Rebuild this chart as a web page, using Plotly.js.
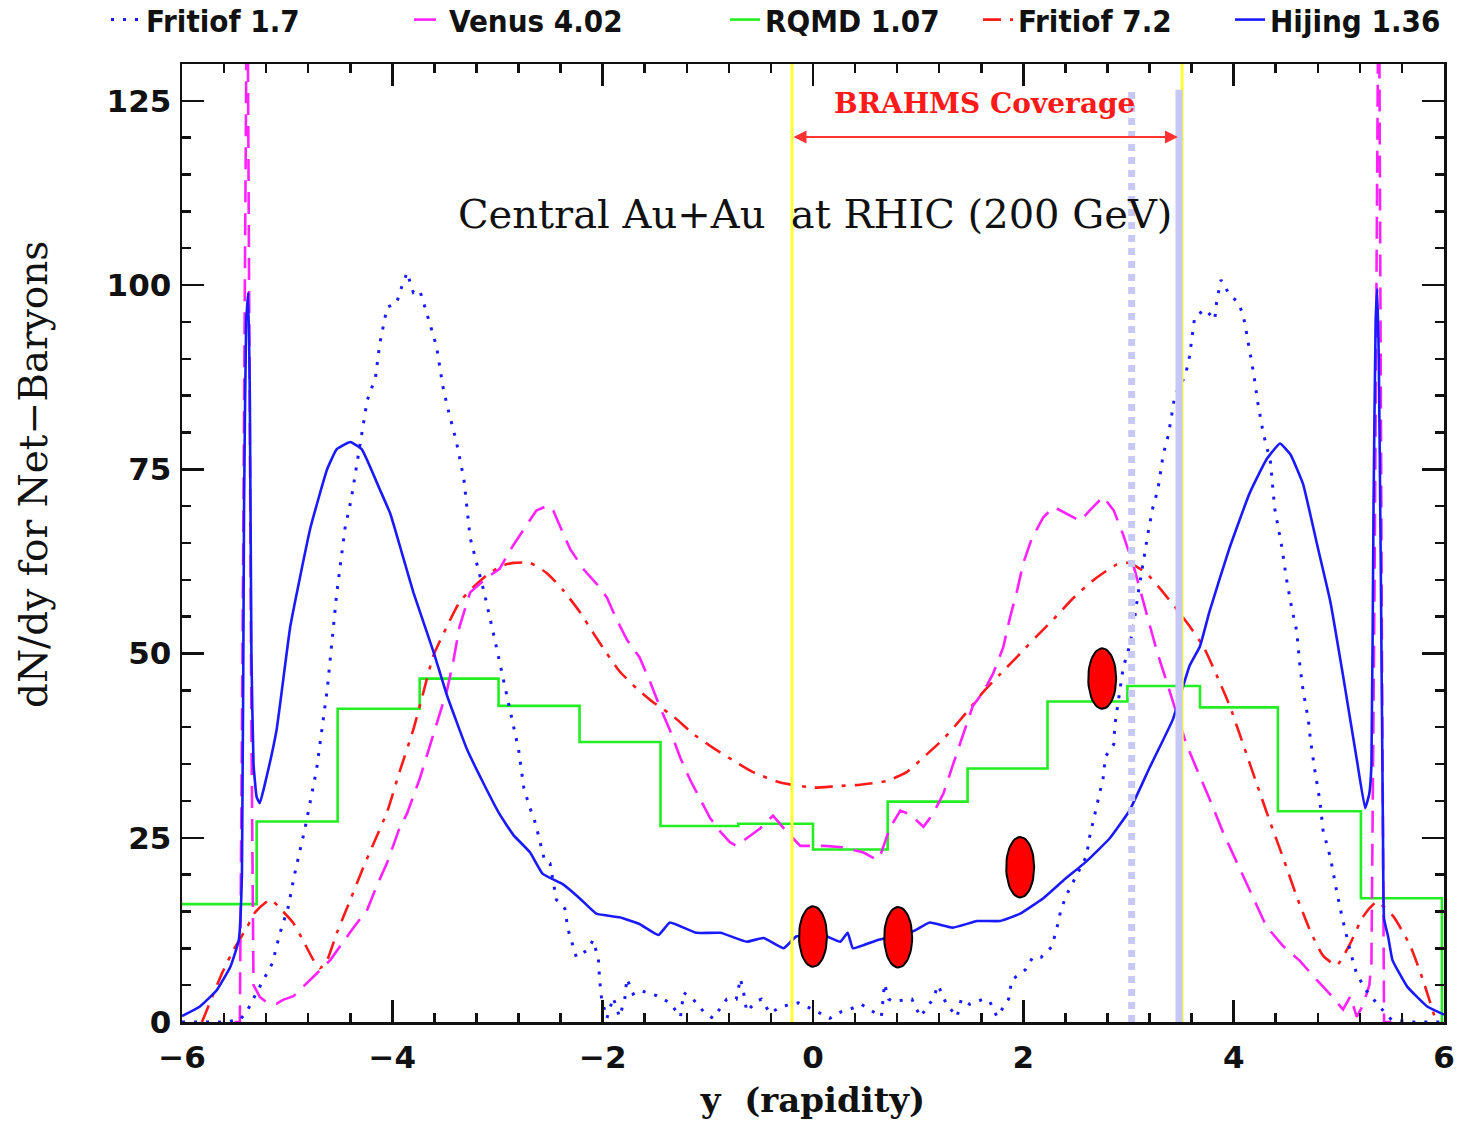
<!DOCTYPE html>
<html>
<head>
<meta charset="utf-8">
<script src="https://cdn.plot.ly/plotly-3.0.1.min.js"></script>
<style>html,body{margin:0;padding:0;background:#fff;}#chart{width:1460px;height:1121px;}</style>
</head>
<body>
<div id="chart"></div>
<script>
// ---------- data ----------
// Hijing 1.36 (blue solid)
const hijingX = [-6.0,-5.83,-5.67,-5.54,-5.46,-5.43,-5.41,-5.39,-5.37,-5.355,-5.34,-5.32,-5.29,-5.26,-5.20,-5.10,-4.97,-4.78,-4.62,-4.53,-4.40,-4.29,-4.12,-4.02,-3.91,-3.80,-3.61,-3.48,-3.29,-3.13,-2.98,-2.85,-2.69,-2.57,-2.38,-2.22,-2.06,-1.84,-1.65,-1.47,-1.36,-1.11,-0.88,-0.63,-0.47,-0.28,-0.16,0.0,0.10,0.26,0.33,0.38,0.61,0.95,1.11,1.33,1.56,1.78,1.97,2.19,2.38,2.60,2.82,3.01,3.20,3.42,3.58,3.68,3.77,3.96,4.15,4.31,4.44,4.54,4.66,4.79,4.92,5.04,5.17,5.25,5.29,5.31,5.33,5.35,5.365,5.38,5.40,5.42,5.43,5.47,5.51,5.65,5.84,6.0];
const hijingY = [0.8,2.1,4.3,7.5,11.1,20,70,95,99,85,50,35,30.5,29.7,33,39.7,53.7,67,75,77.7,78.7,77.7,72.3,69,63.7,58.3,50.3,44.3,37,32.3,28.2,25.4,23,20.1,18.7,16.8,14.7,14.2,13.3,11.8,13.5,12.1,12.1,10.9,11.4,10.0,11.6,11.8,11.8,10.9,12.1,10.0,11.1,12.3,13.5,12.8,13.7,13.7,14.7,16.8,19.2,21.8,24.9,28.7,34.5,41,48.3,51,55.7,64.3,71.7,76.3,78.5,77,73,65,57,47,35.7,29,31,35,70,95,99.5,90,60,25,14,11.5,8.4,4.8,2.1,1.0];

// Fritiof 1.7 (blue dotted)
const fritiof17X = [-6.0,-5.6,-5.45,-5.38,-5.32,-5.23,-5.14,-5.07,-4.99,-4.93,-4.83,-4.72,-4.62,-4.53,-4.45,-4.39,-4.29,-4.24,-4.16,-4.12,-4.05,-3.96,-3.93,-3.86,-3.80,-3.74,-3.69,-3.58,-3.52,-3.48,-3.39,-3.32,-3.26,-3.21,-3.13,-3.04,-2.96,-2.88,-2.80,-2.75,-2.70,-2.64,-2.60,-2.55,-2.50,-2.44,-2.36,-2.33,-2.25,-2.15,-2.09,-2.04,-2.03,-2.01,-1.96,-1.90,-1.84,-1.79,-1.77,-1.71,-1.65,-1.49,-1.36,-1.26,-1.23,-1.14,-1.04,-0.95,-0.82,-0.73,-0.69,-0.66,-0.63,-0.54,-0.49,-0.41,-0.30,-0.14,0.0,0.16,0.27,0.38,0.46,0.65,0.68,0.72,0.76,0.94,1.02,1.14,1.19,1.27,1.37,1.41,1.49,1.62,1.68,1.75,1.86,1.89,2.02,2.09,2.17,2.27,2.32,2.36,2.43,2.51,2.60,2.63,2.67,2.71,2.76,2.78,2.86,2.87,2.90,2.95,3.01,3.05,3.09,3.14,3.19,3.23,3.28,3.33,3.38,3.41,3.44,3.54,3.58,3.63,3.73,3.82,3.84,3.88,3.96,4.04,4.09,4.12,4.19,4.23,4.28,4.35,4.39,4.46,4.50,4.55,4.60,4.63,4.66,4.71,4.73,4.77,4.82,4.85,4.92,4.98,5.03,5.11,5.17,5.26,5.38,5.50,5.70,6.0];
const fritiof17Y = [0,0,0.3,1.5,3.2,5.7,8,12,15.6,20,26.3,34.3,45,58,67,71,79.7,84.3,87.5,92,97,97.5,99,101.7,99,99.3,97,91.7,86.3,83.7,78.7,73.7,65.7,63,58.5,52.8,47.4,42.2,37,31.8,29.4,27,24.6,21.8,21.5,16.6,15.4,12.6,8.8,9.7,11.1,8.5,5.9,3.1,0.5,3.3,0.7,3.1,5.9,3.8,4.3,3.6,2.6,0.7,4,3.1,1.4,0.5,3.1,3.1,5.9,4,1.4,2.8,3.1,1.2,2.1,2.6,1.7,0.5,1.4,1.9,2.4,0.7,5.2,3.1,2.8,3.1,0.7,3.1,5,2.4,0.7,3.1,2.4,3.1,2.8,0.7,3.1,5.7,7.1,8.8,8.8,10.2,12.8,15.4,17.8,20.1,22.5,25.1,27.7,30.3,33.2,36,37.7,40.3,43.1,48.1,51,54,58,62.5,66.7,69.7,72.3,77,79.7,82.3,85,87.7,90.3,95.7,96.7,95.3,98,100.7,98.7,97.7,96,93.7,88,84,80,76,69.7,64.3,60.3,56.3,53,48.3,45,41,38.3,34.3,30,26,22.3,17.7,14.3,9.5,6.5,4.3,2.2,0.3,0,0];

// Venus 4.02 (magenta dashed)
const venusX = [-5.50,-5.45,-5.42,-5.38,-5.34,-5.32,-5.26,-5.19,-5.10,-5.04,-4.94,-4.81,-4.72,-4.59,-4.50,-4.37,-4.24,-4.15,-4.05,-3.94,-3.86,-3.74,-3.61,-3.48,-3.42,-3.36,-3.26,-3.10,-2.98,-2.85,-2.72,-2.63,-2.52,-2.47,-2.37,-2.31,-2.18,-2.06,-1.96,-1.87,-1.77,-1.65,-1.55,-1.46,-1.36,-1.26,-1.17,-1.07,-0.98,-0.88,-0.79,-0.73,-0.63,-0.50,-0.38,-0.25,-0.12,0.10,0.29,0.48,0.61,0.65,0.73,0.83,0.92,1.05,1.14,1.24,1.34,1.43,1.52,1.62,1.71,1.81,1.87,1.94,2.00,2.08,2.19,2.29,2.44,2.54,2.63,2.76,2.86,2.95,3.05,3.14,3.27,3.36,3.46,3.55,3.65,3.77,3.90,4.03,4.16,4.31,4.47,4.63,4.79,4.92,5.04,5.11,5.17,5.23,5.29,5.31,5.34,5.38,5.41,5.43,5.50];
const venusY = [0,0,60,150,40,5,3.4,2.6,2.5,3,3.5,5.3,6.6,8.4,10.2,12.8,15.2,18.4,21.6,26,28.3,33,39,45,49,53.7,58.3,60.3,61.5,64.7,67.5,69.4,70.1,69.4,66.1,64.2,61.4,59.5,57.6,54.7,51.9,49.5,46.2,42.9,39.6,35.8,32.9,30.1,27.7,25.8,24.4,23.9,24.9,26.3,28,25.8,23.9,23.9,23.7,23,22,23,26.3,28.7,28.2,26.5,28.2,31,35.3,39.1,42.9,44.8,47.2,50.9,54.7,58.5,62.3,65.6,68.5,69.9,68.7,68,69.4,71.3,69.4,66.1,61.8,57.2,50.3,46.3,41.7,37.7,34.3,30.3,25.7,21.7,17.7,13,10.3,8.3,5.7,3.7,1.7,3.5,0.7,2.3,5,8,60,150,50,0,0];

// RQMD 1.07 (green histogram): bin edges and bin contents
const rqmdEdges = [-6.0,-5.29,-4.52,-3.74,-2.99,-2.22,-1.45,-0.71,0.0,0.71,1.47,2.23,2.99,3.68,4.42,5.21,5.98];
const rqmdValues = [16.0,27.2,42.5,46.6,42.9,38.0,26.6,26.9,23.4,29.9,34.4,43.5,45.6,42.7,28.6,16.8];

// Fritiof 7.2 (red dash-dot)
const fritiof72X = [-5.81,-5.75,-5.62,-5.51,-5.38,-5.31,-5.16,-5.04,-4.94,-4.85,-4.75,-4.69,-4.62,-4.53,-4.43,-4.29,-4.17,-4.05,-3.93,-3.80,-3.70,-3.61,-3.48,-3.36,-3.23,-3.07,-2.94,-2.85,-2.69,-2.53,-2.37,-2.22,-2.09,-1.96,-1.84,-1.68,-1.52,-1.33,-1.14,-0.95,-0.76,-0.57,-0.31,0.0,0.22,0.45,0.70,0.89,1.08,1.24,1.43,1.62,1.78,1.97,2.13,2.29,2.48,2.67,2.89,3.01,3.17,3.33,3.55,3.71,3.84,3.96,4.09,4.22,4.35,4.47,4.60,4.73,4.85,4.98,5.11,5.23,5.36,5.52,5.68,5.80,5.92];
const fritiof72Y = [0,2.1,6.6,9.8,12.9,14.8,16.6,15,13.4,11.1,8.4,7.3,8.4,12,15.5,20.5,24.5,28.5,34,39.7,45,49.7,53.7,57,59,61,62,62.3,62.3,60.9,58.5,55.7,52.8,50,47.6,45.3,43.4,41.5,39.1,37.2,35.5,33.9,32.5,31.8,32,32.2,32.7,33.9,36.3,38.4,41.5,44.8,47.2,50,52.4,54.7,57.6,60,62.1,62.3,60.9,58.3,54.3,51,47,43,37.7,32.3,27,22.3,17,12.3,9,7.7,10.7,14.3,16.3,14.3,10.3,5.7,0.3];

// BRAHMS measured points (red ellipses)
const brahmsX = [0.0, 0.81, 1.97, 2.75];
const brahmsY = [11.6, 11.5, 21.0, 46.6];

// Series names and legend labels
const seriesNames = ["Fritiof 1.7", "Venus 4.02", "RQMD 1.07", "Fritiof 7.2", "Hijing 1.36"];

// Reference lines (rapidity values)
const acceptanceEdges = [-0.2, 3.51];     // yellow lines
const coverageArrow = [-0.2, 3.47];       // BRAHMS coverage arrow extent
const lavenderLines = [3.03, 3.48];       // light blue markers (dotted, solid)

// Axis ticks
const xTickVals = [-6, -4, -2, 0, 2, 4, 6];
const yTickVals = [0, 25, 50, 75, 100, 125];

// ---------- build traces ----------
const rqmdX = rqmdEdges.slice();
const rqmdY = rqmdValues.concat([0]);

const legendFont = {family: '"DejaVu Sans Condensed", "Liberation Sans Narrow", "DejaVu Sans", sans-serif', size: 31, weight: 'bold', color: '#111'};

const traces = [
  {x: rqmdX, y: rqmdY, mode: 'lines', line: {shape: 'hv', color: '#22ee22', width: 2.6}, name: seriesNames[2], legend: 'legend3'},
  {x: fritiof72X, y: fritiof72Y, mode: 'lines', line: {shape: 'spline', smoothing: 0.5, color: '#ff1a1a', width: 2.6, dash: '18px,9px,4px,9px'}, name: seriesNames[3], legend: 'legend4'},
  {x: venusX, y: venusY, mode: 'lines', line: {color: '#ff22ff', width: 2.6, dash: '22px,11px'}, name: seriesNames[1], legend: 'legend2'},
  {x: fritiof17X, y: fritiof17Y, mode: 'lines', line: {color: '#1a1aff', width: 3, dash: '3px,9px'}, name: seriesNames[0], legend: 'legend'},
  {x: hijingX, y: hijingY, mode: 'lines', line: {shape: 'spline', smoothing: 0.35, color: '#1a1aff', width: 2.6}, name: seriesNames[4], legend: 'legend5'}
];

// ellipses for BRAHMS points (outline drawn around each data centre)
const ellRx = 0.133, ellRy = 4.1, nSeg = 48;
brahmsX.forEach(function (cx, i) {
  const cy = brahmsY[i];
  const ex = [], ey = [];
  for (let k = 0; k <= nSeg; k++) {
    const t = 2 * Math.PI * k / nSeg;
    ex.push(cx + ellRx * Math.cos(t));
    ey.push(cy + ellRy * Math.sin(t));
  }
  traces.push({x: ex, y: ey, mode: 'lines', fill: 'toself', fillcolor: '#ff0000',
    line: {color: '#000', width: 2}, showlegend: false, name: 'BRAHMS', hoverinfo: 'skip'});
});

// ---------- layout ----------
const plotL = 182, plotW = 1262, plotT = 64, plotH = 958;
function paperX(px) { return (px - plotL) / plotW; }
function paperY(py) { return (plotT + plotH - py) / plotH; }
const legendTextStarts = [146, 449, 765, 1018, 1270];
const legendNames = ['legend', 'legend2', 'legend3', 'legend4', 'legend5'];

const shapes = [];
acceptanceEdges.forEach(function (xv) {
  shapes.push({type: 'line', xref: 'x', yref: 'paper', x0: xv, x1: xv, y0: 0, y1: 1,
    line: {color: '#ffff33', width: 3}, layer: 'above'});
});
shapes.push({type: 'line', xref: 'x', yref: 'y', x0: lavenderLines[0], x1: lavenderLines[0], y0: 0, y1: 126.6,
  line: {color: '#c8c8f6', width: 7, dash: '7px,6px'}, layer: 'above'});
shapes.push({type: 'line', xref: 'x', yref: 'y', x0: lavenderLines[1], x1: lavenderLines[1], y0: -1, y1: 126.5,
  line: {color: '#c8c8f6', width: 7}, layer: 'above'});

const axisCommon = {
  showline: true, linecolor: '#111', linewidth: 2.5, mirror: 'allticks',
  ticks: 'inside', ticklen: 22, tickwidth: 2.5, tickcolor: '#111',
  showgrid: false, zeroline: false,
  tickfont: {family: '"DejaVu Sans", sans-serif', size: 31, weight: 'bold', color: '#111'}
};

const layout = {
  width: 1460, height: 1121,
  margin: {l: plotL, r: 16, t: plotT, b: 99, autoexpand: false},
  paper_bgcolor: '#fff', plot_bgcolor: '#fff',
  showlegend: true,
  xaxis: Object.assign({}, axisCommon, {
    range: [-6, 6], tickvals: xTickVals, ticklabelstandoff: 6,
    minor: {dtick: 0.4, tick0: 0, ticks: 'inside', ticklen: 9, tickwidth: 2.5, tickcolor: '#111'},
    title: {text: 'y\u00a0\u00a0(rapidity)', standoff: 15,
      font: {family: '"DejaVu Serif", serif', size: 34, weight: 'bold', color: '#111'}}
  }),
  yaxis: Object.assign({}, axisCommon, {
    range: [0, 130], tickvals: yTickVals, ticklabelstandoff: 2,
    minor: {dtick: 5, tick0: 0, ticks: 'inside', ticklen: 9, tickwidth: 2.5, tickcolor: '#111'}
  }),
  shapes: shapes,
  annotations: [
    // y-axis title, placed above centre as in the reference
    {xref: 'paper', yref: 'paper', x: paperX(33), y: paperY(475), textangle: -90,
      text: 'dN/dy for Net\u2212Baryons', showarrow: false, xanchor: 'center', yanchor: 'middle',
      font: {family: '"DejaVu Serif", serif', size: 39, color: '#111'}},
    {xref: 'x', yref: 'y', x: 0.02, y: 109.6, text: 'Central Au+Au\u00a0 at RHIC (200 GeV)', showarrow: false,
      font: {family: '"DejaVu Serif", serif', size: 40, color: '#111'}},
    {xref: 'x', yref: 'y', x: 1.63, y: 124.7, text: 'BRAHMS Coverage', showarrow: false,
      font: {family: '"DejaVu Serif", serif', size: 28, weight: 'bold', color: '#ff1a1a'}},
    {xref: 'x', yref: 'y', axref: 'x', ayref: 'y', x: coverageArrow[1], y: 120.1, ax: coverageArrow[0], ay: 120.1,
      text: '', showarrow: true, arrowside: 'end+start', arrowhead: 2, startarrowhead: 2,
      arrowsize: 1.3, startarrowsize: 1.3, arrowwidth: 2, arrowcolor: '#ff3333', standoff: 0, startstandoff: 0}
  ]
};

legendNames.forEach(function (ln, i) {
  layout[ln] = {
    x: paperX(legendTextStarts[i] - 40), xanchor: 'left',
    y: 1.046, yanchor: 'middle', orientation: 'h',
    bgcolor: 'rgba(0,0,0,0)', borderwidth: 0, font: legendFont, itemwidth: 30
  };
});

Plotly.newPlot('chart', traces, layout, {displayModeBar: false, staticPlot: true});
</script>
</body>
</html>
